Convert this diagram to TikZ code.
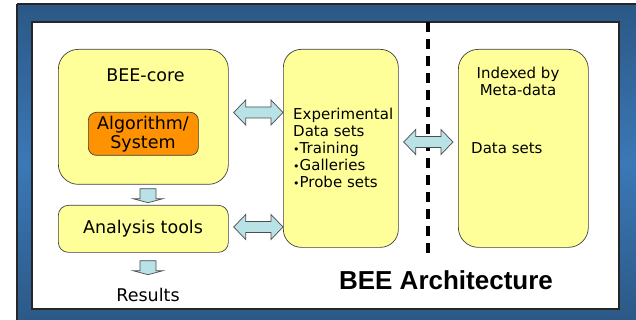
\documentclass[tikz,border=0pt]{standalone}
\usepackage{fontspec}
\setmainfont{DejaVu Sans}
\newfontfamily\titlefont{Liberation Sans}
\usetikzlibrary{calc}
\definecolor{boxyellow}{HTML}{FFFF99}
\definecolor{algoorange}{HTML}{FF9200}
\definecolor{arrowblue}{HTML}{B8E2E6}
\definecolor{framedark}{HTML}{2B5886}
\definecolor{framelight}{HTML}{3B78B6}
\tikzset{
  ybox/.style={draw=black!75, line width=0.7pt, fill=boxyellow},
  abox/.style={draw=black!75, line width=0.7pt, fill=algoorange, rounded corners=8pt},
  blockarrow/.style={draw=black!70, line width=0.7pt, fill=arrowblue, line join=miter},
  lbl/.style={font=\fontsize{17.5}{20}\selectfont, inner sep=0pt},
  small/.style={font=\fontsize{15}{17}\selectfont, inner sep=0pt, align=left},
}
\newcommand\dblharrow[2]{%
  \filldraw[blockarrow] (#1) -- ($(#1)+(12,-12.5)$) -- ($(#1)+(12,-5.5)$)
    -- ($(#2)+(-12,-5.5)$) -- ($(#2)+(-12,-12.5)$) -- (#2)
    -- ($(#2)+(-12,12.5)$) -- ($(#2)+(-12,5.5)$)
    -- ($(#1)+(12,5.5)$) -- ($(#1)+(12,12.5)$) -- cycle;}
\newcommand\downarrowshape[1]{%
  \filldraw[blockarrow] ($(#1)+(-8,0)$) -- ($(#1)+(-8,10)$) -- ($(#1)+(-15,10)$)
    -- ($(#1)+(0,14)$) -- ($(#1)+(15,10)$) -- ($(#1)+(8,10)$) -- ($(#1)+(8,0)$) -- cycle;}
\newcommand\bul{{\fontsize{11}{11}\selectfont•}}
\begin{document}
\begin{tikzpicture}[x=1pt,y=-1pt]
\useasboundingbox (0,0) rectangle (636,320);
% frame
\shade[top color=framedark, bottom color=framedark, middle color=framelight] (17,4) rectangle (640,324);
\draw[black!85, line width=1.2pt] (17,4) -- (640,4);
\draw[black!85, line width=1.2pt] (17,324) -- (17,4);
\filldraw[fill=white, draw=black!85, line width=1.6pt] (32,22) rectangle (619,309);
% boxes
\node[ybox, rounded corners=20pt, minimum width=170pt, minimum height=135pt, anchor=north west] (core) at (58,49) {};
\node[lbl, anchor=center] (coretxt) at (145.5,75) {BEE-core};
\node[abox, minimum width=110pt, minimum height=43pt, anchor=north west] (algo) at (88,112) {};
\node[lbl, align=center, font=\fontsize{17.5}{19}\selectfont] (algotxt) at (143,134) {Algorithm/\\System};
\node[ybox, rounded corners=10pt, minimum width=170pt, minimum height=47pt, anchor=north west] (analysis) at (58,205) {};
\node[lbl] (analysistxt) at (143,229) {Analysis tools};
\node[lbl] (results) at (148,295) {Results};
\node[ybox, rounded corners=18pt, minimum width=115pt, minimum height=198pt, anchor=north west] (exp) at (283,49) {};
\node[small, anchor=north west] (exptxt) at (293,108) {Experimental\\Data sets\\\bul Training\\\bul Galleries\\\bul Probe sets};
\node[ybox, rounded corners=20pt, minimum width=130pt, minimum height=198pt, anchor=north west] (meta) at (458,49) {};
\node[small, align=center] (metatxt) at (518,81) {Indexed by\\ Meta-data};
\node[small, anchor=west] (datasets) at (471,148) {Data sets};
\node[font=\titlefont\bfseries\fontsize{26}{28}\selectfont, inner sep=0pt] (title) at (446,280) {BEE Architecture};
% dashed divider
\coordinate (divtop) at (428,22);
\coordinate (divbot) at (428,253);
\draw[line width=4pt, dash pattern=on 10pt off 7pt] (divtop) -- (divbot);
% arrows
\coordinate (a1l) at ($(core.east |- 0,112.5)+(5,0)$);
\coordinate (a1r) at (exp.west |- 0,112.5);
\dblharrow{a1l}{a1r}
\coordinate (a2l) at ($(analysis.east |- 0,227)+(5,0)$);
\coordinate (a2r) at (exp.west |- 0,227);
\dblharrow{a2l}{a2r}
\coordinate (a3l) at ($(exp.east |- 0,142)+(5,0)$);
\coordinate (a3r) at ($(meta.west |- 0,142)+(-5,0)$);
\dblharrow{a3l}{a3r}
\coordinate (d1) at ($(core.south -| 148,0)+(0,4)$);
\downarrowshape{d1}
\coordinate (d2) at ($(analysis.south -| 148,0)+(0,8)$);
\downarrowshape{d2}
\end{tikzpicture}
\end{document}
